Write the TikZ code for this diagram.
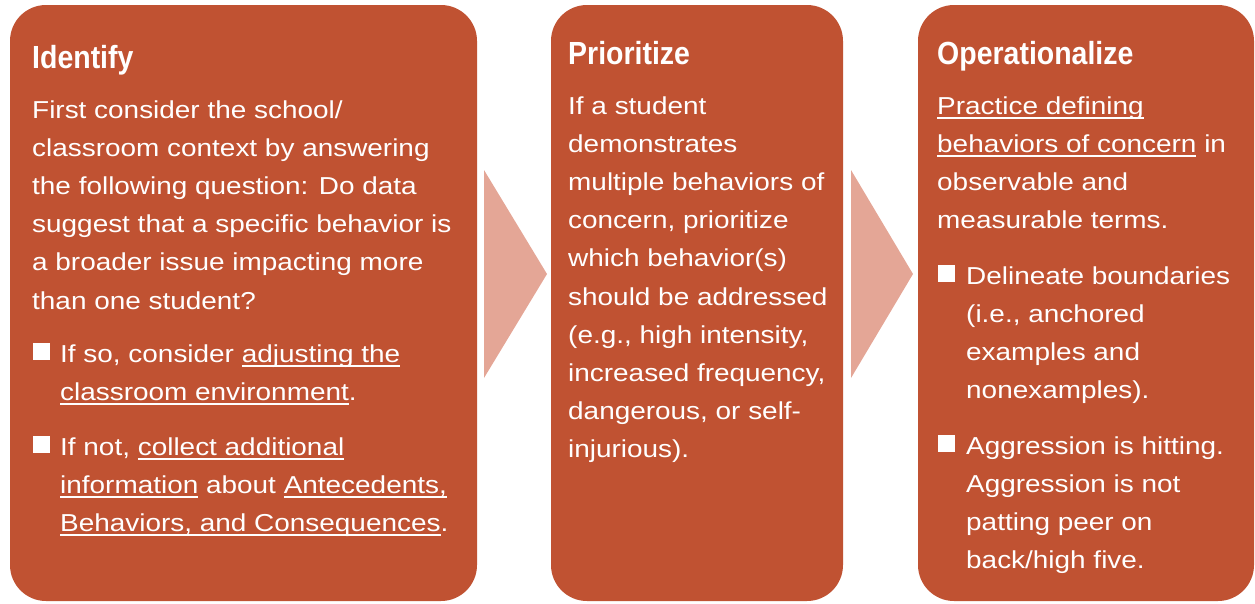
\documentclass[tikz,border=0pt]{standalone}
\usepackage{fontspec}
\setmainfont{Liberation Sans}[FakeStretch=1.14]
\newfontfamily\headfont{Liberation Sans}[FakeStretch=0.89]
\definecolor{boxfill}{RGB}{192,82,50}
\definecolor{chevron}{RGB}{228,166,150}
\newsavebox\ulsave
\newcommand\ulx[1]{\sbox\ulsave{#1}\rlap{\rule[-4.5pt]{\wd\ulsave}{1.5pt}}\usebox\ulsave}
\begin{document}
\begin{tikzpicture}[x=1pt,y=-1pt,
  panel/.style={fill=boxfill,rounded corners=36pt,inner sep=0pt},
  head/.style={anchor=base west,inner sep=0pt,text=white,font=\headfont\bfseries\fontsize{32}{32}\selectfont},
  body/.style={anchor=base west,inner sep=0pt,text=white,font=\fontsize{24.5}{38}\selectfont},
  bulletsq/.style={anchor=south west,fill=white,minimum size=17pt,inner sep=0pt}]
\useasboundingbox (0,0) rectangle (1255,603);
% panels
\fill[panel] (10,5) rectangle (477,601);
\node[inner sep=0pt] (p1) at (243.5,303) {};
\fill[panel] (551,5) rectangle (843,601);
\node[inner sep=0pt] (p2) at (697,303) {};
\fill[panel] (918,5) rectangle (1254,601);
\node[inner sep=0pt] (p3) at (1086,303) {};
% chevrons
\fill[chevron] (484,170) -- (547,274) -- (484,378) -- cycle;
\fill[chevron] (851,170) -- (913,274) -- (851,378) -- cycle;
% panel 1
\node[head] (h1) at (32,68) {Identify};
\node[body] (a1) at (32,118) {First consider the school/};
\node[body] (a2) at (32,156.2) {classroom context by answering};
\node[body] (a3) at (32,194.4) {the following question: Do data};
\node[body] (a4) at (32,232.6) {suggest that a specific behavior is};
\node[body] (a5) at (32,270.8) {a broader issue impacting more};
\node[body] (a6) at (32,309) {than one student?};
\node[bulletsq] (b1) at (33,360) {};
\node[body] (a7) at (60,362) {If so, consider \ulx{adjusting the}};
\node[body] (a8) at (60,400.2) {\ulx{classroom environment}.};
\node[bulletsq] (b2) at (33,453) {};
\node[body] (a9) at (60,455) {If not, \ulx{collect additional}};
\node[body] (a10) at (60,493.2) {\ulx{information} about \ulx{Antecedents,}};
\node[body] (a11) at (60,531.4) {\ulx{Behaviors, and Consequences}.};
% panel 2
\node[head] (h2) at (568,64) {Prioritize};
\node[body] (c1) at (568,114) {If a student};
\node[body] (c2) at (568,152.2) {demonstrates};
\node[body] (c3) at (568,190.4) {multiple behaviors of};
\node[body] (c4) at (568,228.6) {concern, prioritize};
\node[body] (c5) at (568,266.8) {which behavior(s)};
\node[body] (c6) at (568,305) {should be addressed};
\node[body] (c7) at (568,343.2) {(e.g., high intensity,};
\node[body] (c8) at (568,381.4) {increased frequency,};
\node[body] (c9) at (568,419.6) {dangerous, or self-};
\node[body] (c10) at (568,457.8) {injurious).};
% panel 3
\node[head] (h3) at (937,64) {Operationalize};
\node[body] (d1) at (937,114) {\ulx{Practice defining}};
\node[body] (d2) at (937,152.2) {\ulx{behaviors of concern} in};
\node[body] (d3) at (937,190.4) {observable and};
\node[body] (d4) at (937,228.6) {measurable terms.};
\node[bulletsq] (e1) at (938,282) {};
\node[body] (d5) at (966,284) {Delineate boundaries};
\node[body] (d6) at (966,322.2) {(i.e., anchored};
\node[body] (d7) at (966,360.4) {examples and};
\node[body] (d8) at (966,398.6) {nonexamples).};
\node[bulletsq] (e2) at (938,452) {};
\node[body] (d9) at (966,454) {Aggression is hitting.};
\node[body] (d10) at (966,492.2) {Aggression is not};
\node[body] (d11) at (966,530.4) {patting peer on};
\node[body] (d12) at (966,568.6) {back/high five.};
\end{tikzpicture}
\end{document}
